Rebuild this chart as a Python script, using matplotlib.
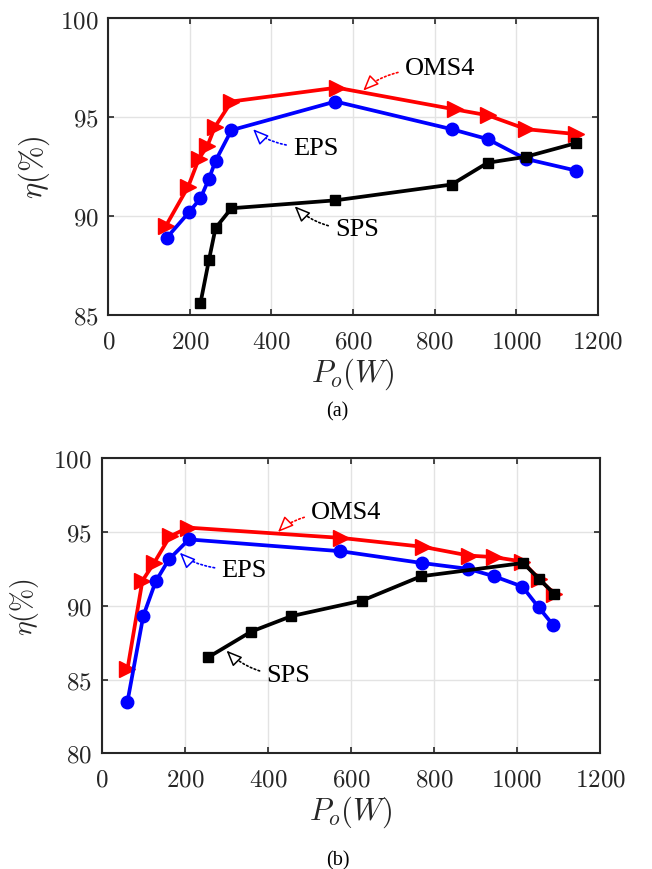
import numpy as np
import matplotlib
matplotlib.use('Agg')
import matplotlib.pyplot as plt

plt.rcParams['mathtext.fontset'] = 'cm'
plt.rcParams['axes.formatter.use_mathtext'] = True

# (a) efficiency vs output power
p_oms4_a = [141, 196, 222, 243, 261, 302, 560, 850, 931, 1025, 1148]
eta_oms4_a = [89.5, 91.5, 92.9, 93.55, 94.5, 95.8, 96.5, 95.4, 95.1, 94.4, 94.15]
p_eps_a = [143, 198, 226, 247, 263, 302, 557, 842, 930, 1023, 1148]
eta_eps_a = [88.9, 90.2, 90.9, 91.9, 92.8, 94.35, 95.8, 94.4, 93.9, 92.9, 92.3]
p_sps_a = [226, 247, 263, 302, 557, 842, 930, 1023, 1148]
eta_sps_a = [85.6, 87.8, 89.4, 90.4, 90.8, 91.6, 92.7, 93.0, 93.7]

# (b)
p_oms4_b = [62, 98, 126, 164, 208, 577, 773, 885, 945, 1013, 1054, 1090]
eta_oms4_b = [85.7, 91.7, 92.9, 94.7, 95.3, 94.6, 94.0, 93.4, 93.3, 93.0, 91.8, 90.8]
p_eps_b = [62, 100, 130, 162, 210, 575, 771, 883, 945, 1013, 1052, 1087]
eta_eps_b = [83.5, 89.3, 91.65, 93.15, 94.5, 93.7, 92.9, 92.5, 92.0, 91.3, 89.9, 88.7]
p_sps_b = [256, 360, 457, 627, 769, 1015, 1054, 1090]
eta_sps_b = [86.5, 88.25, 89.3, 90.35, 92.0, 92.9, 91.8, 90.8]

xticks = [0, 200, 400, 600, 800, 1000, 1200]

SERIF = 'Liberation Serif'


def setup_axes(ax, ylim, yticks, ylab_size, ylab_pad):
    ax.set_xlim(0, 1200)
    ax.set_ylim(*ylim)
    ax.set_xticks(xticks)
    ax.set_yticks(yticks)
    ax.grid(True, color='#e3e3e3', linewidth=1.0)
    ax.set_axisbelow(True)
    ax.tick_params(direction='in', length=4, width=1.2, top=True, right=True,
                   color='#262626', labelsize=18, labelcolor='#262626')
    ax.tick_params(axis='x', pad=11)
    ax.tick_params(axis='y', pad=7)
    for lab in ax.get_xticklabels() + ax.get_yticklabels():
        lab.set_family('cmr10')
    for s in ax.spines.values():
        s.set_linewidth(1.5)
        s.set_color('#262626')
    ax.set_xlabel(r'$P_o(W)$', fontsize=22, color='#262626', labelpad=2)
    ax.set_ylabel(r'$\eta(\%)$', fontsize=ylab_size, color='#262626',
                  labelpad=ylab_pad)


def draw_curves(ax, po, eo, pe, ee, ps, es):
    ax.plot(po, eo, '-', color='red', lw=2.7, marker='>', ms=11, zorder=3)
    ax.plot(pe, ee, '-', color='blue', lw=2.7, marker='o', ms=9, zorder=4)
    ax.plot(ps, es, '-', color='black', lw=2.7, marker='s', ms=7.5, zorder=5)


def tag(ax, text, tip, pos, color, up):
    # dotted leader from the label to the curve
    angle = -45 if up else 45
    ax.annotate(text, xy=tip, xytext=pos, ha='left', va='center',
                fontsize=19, family=SERIF, color='black',
                arrowprops=dict(arrowstyle='-', linestyle=(0, (1, 1.5)),
                                color=color, lw=1.2, shrinkA=3, shrinkB=9,
                                connectionstyle='angle3,angleA=0,angleB=%d' % angle))
    # open arrow head
    dy = -7 if up else 7
    ax.annotate('', xy=tip, xytext=(7, dy), textcoords='offset points',
                arrowprops=dict(arrowstyle='-|>,head_length=0.95,head_width=0.4',
                                fc='white', ec=color, lw=1.1,
                                shrinkA=0, shrinkB=0), zorder=6)


fig = plt.figure(figsize=(6.52, 8.70), dpi=100)

ax1 = fig.add_axes([0.1661, 0.6368, 0.7506, 0.3408])
draw_curves(ax1, p_oms4_a, eta_oms4_a, p_eps_a, eta_eps_a, p_sps_a, eta_sps_a)
setup_axes(ax1, (85, 100), [85, 90, 95, 100], 22, 6)
tag(ax1, 'OMS4', (625, 96.35), (727, 97.5), 'red', False)
tag(ax1, 'EPS', (355, 94.4), (453, 93.47), 'blue', True)
tag(ax1, 'SPS', (457, 90.5), (556, 89.33), 'black', True)

ax2 = fig.add_axes([0.156, 0.133, 0.7643, 0.3391])
draw_curves(ax2, p_oms4_b, eta_oms4_b, p_eps_b, eta_eps_b, p_sps_b, eta_sps_b)
setup_axes(ax2, (80, 100), [80, 85, 90, 95, 100], 20, 9)
tag(ax2, 'OMS4', (424.5, 95.0), (504, 96.35), 'red', False)
tag(ax2, 'EPS', (188, 93.6), (288.5, 92.43), 'blue', True)
tag(ax2, 'SPS', (300.5, 86.96), (396.6, 85.3), 'black', True)

fig.text(337 / 652, 1 - 412 / 870, '(a)', ha='center', va='center',
         fontsize=14.5, family=SERIF)
fig.text(338 / 652, 1 - 861 / 870, '(b)', ha='center', va='center',
         fontsize=14.5, family=SERIF)

fig.savefig('out.png', dpi=100)
